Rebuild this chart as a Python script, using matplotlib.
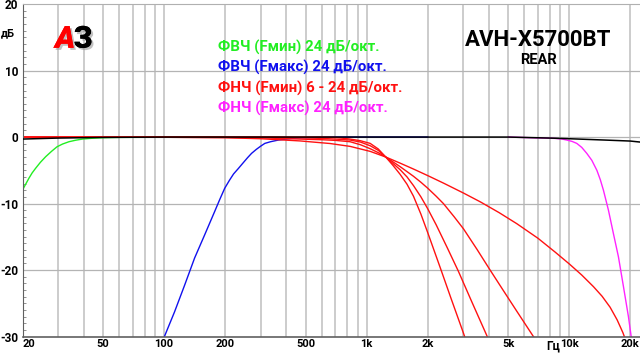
import matplotlib.pyplot as plt
import matplotlib.patheffects as pe

plt.rcParams['font.family'] = ['Roboto', 'DejaVu Sans']

# --- данные ---
black_f = [20, 30, 50, 100, 1000, 5000, 8000, 10000, 15000, 20000, 22300]
black_db = [-0.3, -0.15, -0.05, 0, 0, 0, -0.15, -0.25, -0.45, -0.6, -0.75]

green_f = [20, 21.5, 22.3, 23.2, 24.5, 26.0, 27.8, 29.6, 31.5, 33.9, 36.5, 39.5, 44, 49.6, 60, 200]
green_db = [-7.95, -6.2, -5.4, -4.7, -3.8, -2.96, -2.15, -1.46, -1.05, -0.7, -0.48, -0.3, -0.18, -0.1, -0.05, 0]

blue_f = [100.3, 112.5, 126.1, 141.3, 158.5, 177.5, 188, 199, 210, 220, 232, 245, 258, 270,
          285, 300, 314, 335, 366, 400, 427, 478, 700, 2000]
blue_db = [-30, -26.3, -22.3, -18.2, -14.7, -11.2, -9.4, -7.7, -6.5, -5.55, -4.75, -3.9, -3.1, -2.45,
           -1.85, -1.35, -0.95, -0.7, -0.45, -0.3, -0.2, -0.1, 0, 0]

# ФНЧ Fмин, 6 / 12 / 18 / 24 дБ/окт
red6_f = [20, 100, 200, 300, 468, 659, 827, 1039, 1240, 1460, 1700, 2000, 2400, 3000, 3640, 4500,
          5500, 7000, 8500, 10000, 11500, 13140, 14500, 15880, 17200, 18350, 19300]
red6_db = [0, -0.03, -0.1, -0.25, -0.58, -0.97, -1.4, -2.15, -3.0, -3.92, -4.81, -5.8, -6.95, -8.42, -9.76, -11.37,
           -13.03, -15.23, -17.3, -19.1, -20.75, -22.5, -23.95, -25.6, -27.5, -29.4, -31.2]

red12_f = [20, 200, 300, 468, 600, 700, 827, 930, 1039, 1140, 1240, 1350, 1460, 1580, 1700, 1850,
           2000, 2200, 2388, 2700, 3000, 3500, 4060, 4700, 5500, 6640, 7000]
red12_db = [0, -0.05, -0.12, -0.3, -0.4, -0.5, -0.7, -1.15, -1.75, -2.35, -3.0, -3.75, -4.45, -5.2, -5.9, -6.8,
            -7.7, -8.9, -10.0, -12.0, -13.8, -16.9, -20.0, -23.0, -26.2, -30.0, -31.0]

red18_f = [20, 300, 468, 600, 700, 827, 930, 1039, 1140, 1240, 1350, 1460, 1580, 1700, 1850, 2000,
           2200, 2500, 2833, 3300, 3930, 4100]
red18_db = [0, 0, -0.1, -0.2, -0.3, -0.45, -0.75, -1.3, -2.0, -3.0, -4.0, -4.9, -6.0, -7.3, -9.0, -10.8,
            -13.2, -16.7, -20.2, -24.8, -30.0, -31.4]

red24_f = [20, 400, 600, 700, 827, 930, 1039, 1140, 1240, 1350, 1460, 1580, 1700, 1850, 2000, 2301,
           2600, 3000, 3200]
red24_db = [0, 0, 0, -0.05, -0.3, -0.55, -0.95, -1.8, -3.0, -4.3, -5.6, -7.1, -8.9, -11.6, -14.4, -19.6,
            -24.2, -29.5, -32]

mag_f = [5000, 8500, 9200, 9710, 10300, 10870, 11500, 12180, 12900, 13660, 14200, 14720, 15580,
         16480, 17450, 18480, 19550, 20090, 20500]
mag_db = [0, -0.2, -0.3, -0.45, -0.65, -0.95, -1.55, -2.45, -3.5, -5, -6.4, -8, -11,
          -14.5, -18, -22.5, -27, -29.6, -31.6]

xtick_vals = [20, 50, 100, 200, 500, 1000, 2000, 5000, 10000, 20000]
xtick_labels = ["20", "50", "100", "200", "500", "1k", "2k", "5k", "10k", "20k"]
ytick_vals = [-30, -20, -10, 0, 10, 20]

legend_text = ["ФВЧ (Fмин) 24 дБ/окт.", "ФВЧ (Fмакс) 24 дБ/окт.",
               "ФНЧ (Fмин) 6 - 24 дБ/окт.", "ФНЧ (Fмакс) 24 дБ/окт."]
legend_colors = ["#22ee22", "#1111ee", "#ff1111", "#ff22ff"]

fig = plt.figure(figsize=(6.4, 3.54), dpi=100)
ax = fig.add_axes([0.0352, 0.0494, 0.9648, 0.939])
ax.set_xscale("log")
ax.set_xlim(20, 22300)
ax.set_ylim(-30, 20)

# сетка
grid_f = [m * 10 ** e for e in range(1, 5) for m in range(1, 10) if 20 <= m * 10 ** e <= 20000]
for f in grid_f:
    ax.axvline(f, color="#c8c8c8", lw=1.3, zorder=0)
for y in [-20, -10, 0, 10]:
    ax.axhline(y, color="#b4b4b4", lw=0.9, zorder=0)

lw = 1.0
ax.plot(green_f, green_db, color=legend_colors[0], lw=lw, zorder=2)
ax.plot(blue_f, blue_db, color=legend_colors[1], lw=lw, zorder=2)
for fr, db in [(red6_f, red6_db), (red12_f, red12_db), (red18_f, red18_db), (red24_f, red24_db)]:
    ax.plot(fr, db, color=legend_colors[2], lw=lw, zorder=2)
ax.plot(mag_f, mag_db, color=legend_colors[3], lw=lw, zorder=2)
ax.plot(black_f, black_db, color="black", lw=1.1, zorder=3)

# оси
ax.set_xticks(xtick_vals)
ax.set_xticklabels(xtick_labels, fontsize=8, fontweight="bold")
ax.set_xticks([], minor=True)
ax.tick_params(axis="x", length=0, pad=2)
ax.get_xticklabels()[0].set_ha("left")

ax.set_yticks(ytick_vals)
ax.set_yticklabels([str(v) for v in ytick_vals], fontsize=8.5, fontweight="bold")
ax.set_yticks(range(-30, 21), minor=True)
ax.tick_params(axis="y", which="major", length=0, pad=3)
ax.tick_params(axis="y", which="minor", direction="in", length=2.5, width=0.6, color="#808080")

ax.spines["right"].set_visible(False)
ax.spines["top"].set_color("#b0b0b0")
ax.spines["left"].set_color("#606060")
ax.spines["bottom"].set_color("#606060")
ax.spines["bottom"].set_linewidth(1.2)

# подписи
fig.text(0.002, 0.907, "дБ", fontsize=8, fontweight="bold", va="center")
fig.text(0.853, 0.003, "Гц", fontsize=8.5, fontweight="bold", va="bottom")

shadow = [pe.withSimplePatchShadow(offset=(1.5, -1.5), shadow_rgbFace="#999999", alpha=0.6), pe.Normal()]
fig.text(0.086, 0.865, "А", fontsize=22, fontweight="black", color="#ff0000", style="italic",
         path_effects=shadow)
fig.text(0.115, 0.865, "З", fontsize=22, fontweight="black", color="black", path_effects=shadow)

for i, (t, c) in enumerate(zip(legend_text, legend_colors)):
    fig.text(0.341, 0.866 - i * 0.0574, t, fontsize=10.8, fontweight="bold", color=c, va="center")

fig.text(0.841, 0.887, "AVH-X5700BT", fontsize=16, fontweight="bold", ha="center", va="center")
fig.text(0.841, 0.830, "REAR", fontsize=10.5, fontweight="bold", ha="center", va="center")

fig.savefig("out.png", dpi=100)
